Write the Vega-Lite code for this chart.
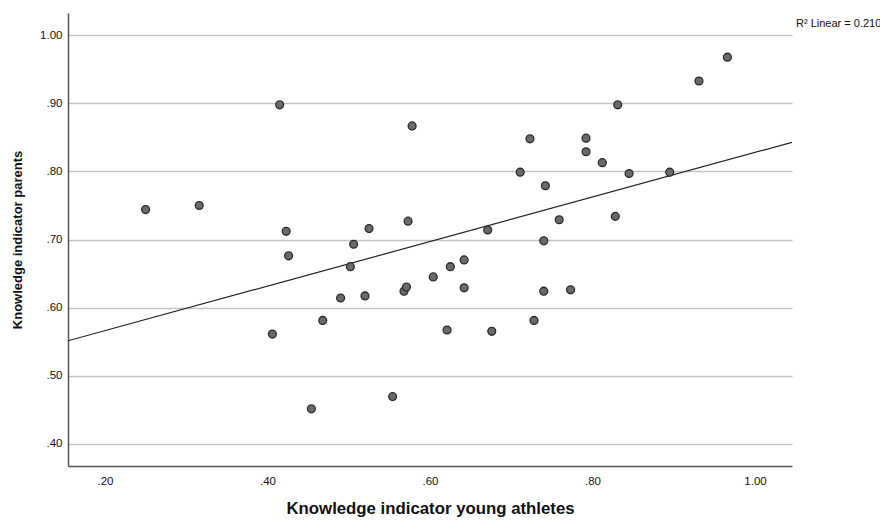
{
  "$schema": "https://vega.github.io/schema/vega-lite/v6.json",
  "width": 724,
  "height": 453,
  "autosize": {"type": "none"},
  "padding": {"left": 68, "top": 13, "right": 88, "bottom": 54},
  "background": "white",
  "config": {
    "view": {"stroke": null},
    "font": "Liberation Sans"
  },
  "datasets": {
    "points": [
      {"athletes": 0.250, "parents": 0.744},
      {"athletes": 0.316, "parents": 0.750},
      {"athletes": 0.415, "parents": 0.898},
      {"athletes": 0.423, "parents": 0.712},
      {"athletes": 0.426, "parents": 0.676},
      {"athletes": 0.406, "parents": 0.561},
      {"athletes": 0.454, "parents": 0.451},
      {"athletes": 0.468, "parents": 0.581},
      {"athletes": 0.490, "parents": 0.614},
      {"athletes": 0.502, "parents": 0.660},
      {"athletes": 0.506, "parents": 0.693},
      {"athletes": 0.520, "parents": 0.617},
      {"athletes": 0.525, "parents": 0.716},
      {"athletes": 0.554, "parents": 0.469},
      {"athletes": 0.568, "parents": 0.624},
      {"athletes": 0.571, "parents": 0.630},
      {"athletes": 0.573, "parents": 0.727},
      {"athletes": 0.578, "parents": 0.867},
      {"athletes": 0.604, "parents": 0.645},
      {"athletes": 0.621, "parents": 0.567},
      {"athletes": 0.625, "parents": 0.660},
      {"athletes": 0.642, "parents": 0.670},
      {"athletes": 0.642, "parents": 0.629},
      {"athletes": 0.671, "parents": 0.714},
      {"athletes": 0.676, "parents": 0.565},
      {"athletes": 0.711, "parents": 0.799},
      {"athletes": 0.723, "parents": 0.848},
      {"athletes": 0.728, "parents": 0.581},
      {"athletes": 0.740, "parents": 0.698},
      {"athletes": 0.740, "parents": 0.624},
      {"athletes": 0.742, "parents": 0.779},
      {"athletes": 0.759, "parents": 0.729},
      {"athletes": 0.773, "parents": 0.626},
      {"athletes": 0.792, "parents": 0.849},
      {"athletes": 0.792, "parents": 0.829},
      {"athletes": 0.812, "parents": 0.813},
      {"athletes": 0.828, "parents": 0.734},
      {"athletes": 0.831, "parents": 0.898},
      {"athletes": 0.845, "parents": 0.797},
      {"athletes": 0.895, "parents": 0.799},
      {"athletes": 0.931, "parents": 0.933},
      {"athletes": 0.966, "parents": 0.968}
    ],
    "fitlabel": [
      {"athletes": 1.0455, "parents": 1.0172, "label": "R² Linear = 0.210"}
    ]
  },
  "encoding": {
    "x": {
      "field": "athletes",
      "type": "quantitative",
      "title": "Knowledge indicator young athletes",
      "scale": {"domain": [0.1545, 1.0455], "nice": false, "zero": false},
      "axis": {
        "values": [0.2, 0.4, 0.6, 0.8, 1.0],
        "labelExpr": "datum.value >= 1 ? format(datum.value, '.2f') : substring(format(datum.value, '.2f'), 1)",
        "grid": false,
        "ticks": false,
        "domainColor": "#555555",
        "domainWidth": 1.5,
        "labelFontSize": 11.5,
        "labelColor": "#111111",
        "labelPadding": 9,
        "labelFlush": false,
        "titleFontSize": 16.8,
        "titleFontWeight": "bold",
        "titleColor": "#111111",
        "titlePadding": 14
      }
    },
    "y": {
      "field": "parents",
      "type": "quantitative",
      "title": "Knowledge indicator parents",
      "scale": {"domain": [0.367, 1.033], "nice": false, "zero": false},
      "axis": {
        "values": [0.4, 0.5, 0.6, 0.7, 0.8, 0.9, 1.0],
        "labelExpr": "datum.value >= 1 ? format(datum.value, '.2f') : substring(format(datum.value, '.2f'), 1)",
        "grid": true,
        "gridColor": "#c4c4c4",
        "gridWidth": 1.5,
        "ticks": false,
        "domainColor": "#555555",
        "domainWidth": 1.5,
        "labelFontSize": 11.5,
        "labelColor": "#111111",
        "labelPadding": 6,
        "labelFlush": false,
        "titleFontSize": 13,
        "titleFontWeight": "bold",
        "titleColor": "#111111",
        "titlePadding": 15
      }
    }
  },
  "layer": [
    {
      "data": {"name": "points"},
      "transform": [
        {"regression": "parents", "on": "athletes", "extent": [0.1545, 1.0455]}
      ],
      "mark": {"type": "line", "color": "#222222", "strokeWidth": 1.2, "clip": true}
    },
    {
      "data": {"name": "points"},
      "mark": {"type": "point", "filled": true, "fill": "#6a6a6a", "stroke": "#2a2a2a", "strokeWidth": 1.3, "size": 62, "opacity": 1}
    },
    {
      "data": {"name": "fitlabel"},
      "mark": {"type": "text", "align": "left", "baseline": "middle", "fontSize": 11, "color": "#111111", "dx": 4, "clip": false},
      "encoding": {
        "text": {"field": "label", "type": "nominal"}
      }
    }
  ]
}
